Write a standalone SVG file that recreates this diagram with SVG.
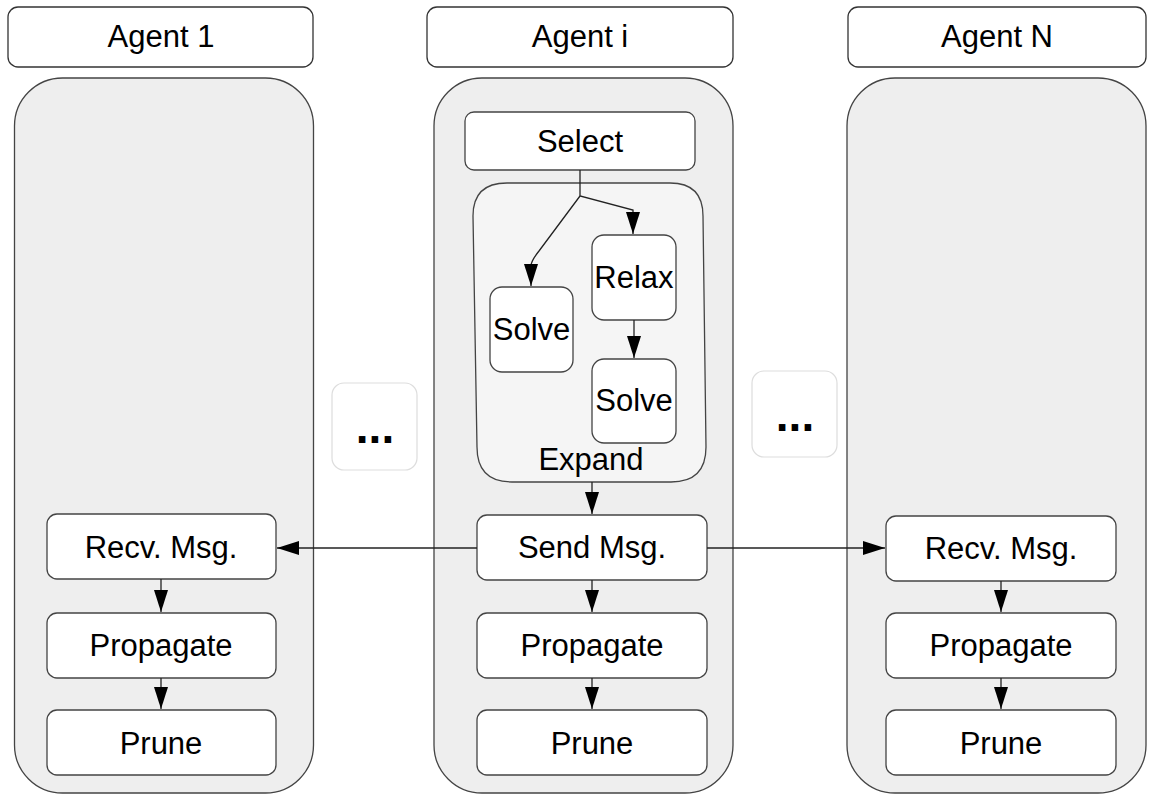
<svg xmlns="http://www.w3.org/2000/svg" width="1149" height="795" viewBox="0 0 1149 795">
<style>
  .title{fill:#fff;stroke:#333;stroke-width:1.3}
  .lane{fill:#eeeeee;stroke:#444;stroke-width:1.3}
  .node{fill:#fff;stroke:#444;stroke-width:1.3}
  .expand{fill:#f5f5f5;stroke:#444;stroke-width:1.3}
  .dotsbox{fill:#fff;stroke:#dddddd;stroke-width:1.2}
  .t{font-family:"Liberation Sans",Arial,sans-serif;font-size:31px;fill:#000;text-anchor:middle}
  .dots{font-family:"Liberation Sans",Arial,sans-serif;font-size:46px;font-weight:bold;fill:#000;text-anchor:middle}
  .c{fill:none;stroke:#222;stroke-width:1.3}
</style>
<defs>
  <marker id="arr" markerUnits="userSpaceOnUse" markerWidth="22" markerHeight="14" refX="22" refY="7" orient="auto">
    <path d="M0,0 L22,7 L0,14 z" fill="#000"/>
  </marker>
</defs>
<rect width="1149" height="795" fill="#fff"/>

<g id="agent1">
  <rect class="title" x="8" y="7" width="305" height="60" rx="10"/>
  <text class="t" x="161" y="47">Agent 1</text>
  <rect class="lane" x="14.5" y="78" width="299" height="715" rx="48"/>
</g>
<g id="agenti">
  <rect class="title" x="427" y="7" width="306" height="60" rx="10"/>
  <text class="t" x="580" y="47">Agent i</text>
  <rect class="lane" x="434" y="78" width="299" height="715" rx="48"/>
</g>
<g id="agentN">
  <rect class="title" x="848" y="7" width="298" height="60" rx="10"/>
  <text class="t" x="997" y="47">Agent N</text>
  <rect class="lane" x="847" y="78" width="299" height="715" rx="48"/>
</g>

<g id="dots-left">
  <rect class="dotsbox" x="332" y="383" width="85" height="87" rx="12"/>
  <text class="dots" x="375" y="443">...</text>
</g>
<g id="dots-right">
  <rect class="dotsbox" x="752" y="371" width="85" height="86" rx="12"/>
  <text class="dots" x="795" y="431">...</text>
</g>

<g id="expand">
  <path class="expand" d="M507,183 L670,183 Q703,183 703,216 L706,447 Q706,482 671,482 L512,482 Q477,482 477,447 L473,216 Q473,183 507,183 Z"/>
  <text class="t" x="591" y="470">Expand</text>
</g>
<g id="select">
  <rect class="node" x="465" y="112" width="230" height="58" rx="9"/>
  <text class="t" x="580" y="152">Select</text>
</g>
<g id="solve1">
  <rect class="node" x="490" y="287" width="83" height="85" rx="12"/>
  <text class="t" x="531.5" y="340">Solve</text>
</g>
<g id="relax">
  <rect class="node" x="592" y="235" width="84" height="85" rx="12"/>
  <text class="t" x="634" y="288">Relax</text>
</g>
<g id="solve2">
  <rect class="node" x="592" y="359" width="84" height="84" rx="12"/>
  <text class="t" x="634" y="411">Solve</text>
</g>

<g id="recv1">
  <rect class="node" x="47" y="514" width="229" height="65" rx="10"/>
  <text class="t" x="161" y="558">Recv. Msg.</text>
</g>
<g id="prop1">
  <rect class="node" x="47" y="613" width="229" height="65" rx="10"/>
  <text class="t" x="161" y="656">Propagate</text>
</g>
<g id="prune1">
  <rect class="node" x="47" y="710" width="229" height="65" rx="10"/>
  <text class="t" x="161" y="754">Prune</text>
</g>

<g id="send">
  <rect class="node" x="477" y="515" width="230" height="65" rx="10"/>
  <text class="t" x="592" y="558">Send Msg.</text>
</g>
<g id="propi">
  <rect class="node" x="477" y="613" width="230" height="65" rx="10"/>
  <text class="t" x="592" y="656">Propagate</text>
</g>
<g id="prunei">
  <rect class="node" x="477" y="710" width="230" height="65" rx="10"/>
  <text class="t" x="592" y="754">Prune</text>
</g>

<g id="recvN">
  <rect class="node" x="886" y="516" width="230" height="65" rx="10"/>
  <text class="t" x="1001" y="559">Recv. Msg.</text>
</g>
<g id="propN">
  <rect class="node" x="886" y="613" width="230" height="65" rx="10"/>
  <text class="t" x="1001" y="656">Propagate</text>
</g>
<g id="pruneN">
  <rect class="node" x="886" y="710" width="230" height="65" rx="10"/>
  <text class="t" x="1001" y="754">Prune</text>
</g>

<g id="connectors">
  <path class="c" d="M580,170 L580,196 L633,210 L633,234" marker-end="url(#arr)"/>
  <path class="c" d="M580,196 L539,251 Q531,261 531,266 L531,286" marker-end="url(#arr)"/>
  <path class="c" d="M634,320 L634,358" marker-end="url(#arr)"/>
  <path class="c" d="M592,482 L592,514" marker-end="url(#arr)"/>
  <path class="c" d="M477,548 L277,548" marker-end="url(#arr)"/>
  <path class="c" d="M707,548 L885,548" marker-end="url(#arr)"/>
  <path class="c" d="M161,579 L161,612" marker-end="url(#arr)"/>
  <path class="c" d="M161,678 L161,709" marker-end="url(#arr)"/>
  <path class="c" d="M592,580 L592,612" marker-end="url(#arr)"/>
  <path class="c" d="M592,678 L592,709" marker-end="url(#arr)"/>
  <path class="c" d="M1001,581 L1001,612" marker-end="url(#arr)"/>
  <path class="c" d="M1001,678 L1001,709" marker-end="url(#arr)"/>
</g>
</svg>
